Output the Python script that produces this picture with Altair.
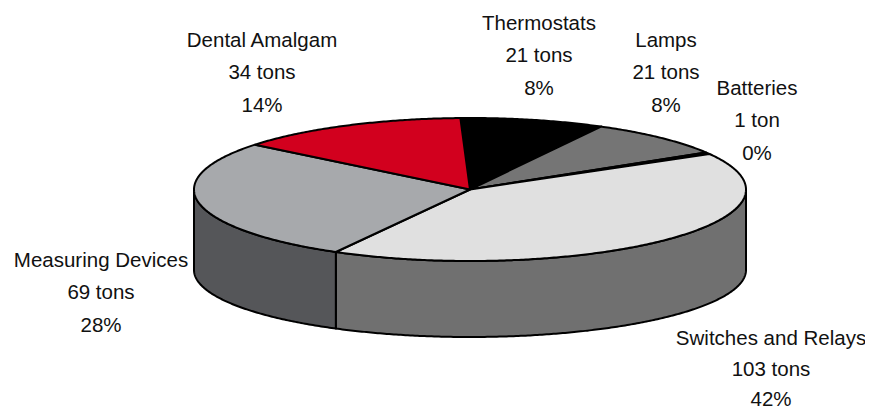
import altair as alt
import numpy as np

categories = ["Thermostats", "Lamps", "Batteries", "Switches and Relays", "Measuring Devices", "Dental Amalgam"]
tons = [21, 21, 1, 103, 69, 34]
tons_text = ["21 tons", "21 tons", "1 ton", "103 tons", "69 tons", "34 tons"]
percent_text = ["8%", "8%", "0%", "42%", "28%", "14%"]
top_colors = ["#000000", "#757575", "#000000", "#E0E0E0", "#A7A9AC", "#D2001E"]
wall_colors = {"Switches and Relays": "#707070", "Measuring Devices": "#555659"}

W, H = 857, 402
START = 92.0
RX, RY, RY_BOTTOM, DEPTH = 276.0, 71.5, 67.0, 80.5
CX, CY = 470.0 - 8, 189.5 - 8
TILT = RY / RX
TILT_BOTTOM = RY_BOTTOM / RX
D = DEPTH / RX

shares = np.array(tons) / sum(tons)
ends = START - np.cumsum(shares) * 360
starts = np.concatenate([[START], ends[:-1]])


def arc(a, b, tilt=TILT, dy=0.0):
    n = max(2, int(abs(a - b) * 2))
    t = np.radians(np.linspace(a, b, n))
    return [[float(np.cos(v)), float(-np.sin(v) * tilt + dy)] for v in t]


features = []
for cat, a, b in zip(categories, starts, ends):
    s, e = min(a, 0.0), max(b, -180.0)
    if cat in wall_colors and s > e:
        ring = arc(s, e) + arc(e, s, TILT_BOTTOM, D)
        ring.append(ring[0])
        features.append({"type": "Feature", "properties": {"fill": wall_colors[cat]},
                         "geometry": {"type": "Polygon", "coordinates": [ring]}})
for cat, a, b, col in zip(categories, starts, ends, top_colors):
    ring = [[0.0, 0.0]] + arc(a, b)
    ring.append(ring[0])
    features.append({"type": "Feature", "properties": {"fill": col},
                     "geometry": {"type": "Polygon", "coordinates": [ring]}})

pie = (
    alt.Chart(alt.InlineData(values={"type": "FeatureCollection", "features": features},
                             format=alt.DataFormat(type="json", property="features")))
    .mark_geoshape(stroke="black", strokeWidth=2, strokeJoin="round")
    .encode(fill=alt.Fill("properties.fill:N", scale=None))
    .project(type="identity", scale=RX, translate=[CX, CY])
)

label_pos = {
    "Thermostats": (539, 30, 32.3), "Lamps": (666, 47, 32.3), "Batteries": (757, 95, 32.3),
    "Switches and Relays": (771, 345, 30.5), "Measuring Devices": (101, 267, 32.3),
    "Dental Amalgam": (262, 47, 32.3),
}

layers = [pie]
for cat, t, p in zip(categories, tons_text, percent_text):
    x, y, lh = label_pos[cat]
    layers.append(
        alt.Chart(alt.Data(values=[{"label": f"{cat}\n{t}\n{p}"}]))
        .mark_text(font="Liberation Sans", fontSize=20.5, color="#111111", align="center",
                   baseline="alphabetic", lineBreak="\n", lineHeight=lh)
        .encode(text="label:N", x=alt.value(x - 8), y=alt.value(y - 8))
    )

chart = alt.layer(*layers).properties(width=W, height=H, padding=0, autosize="none").configure_view(stroke=None)
chart.save("out.html", embed_options={"renderer": "svg", "actions": False})
